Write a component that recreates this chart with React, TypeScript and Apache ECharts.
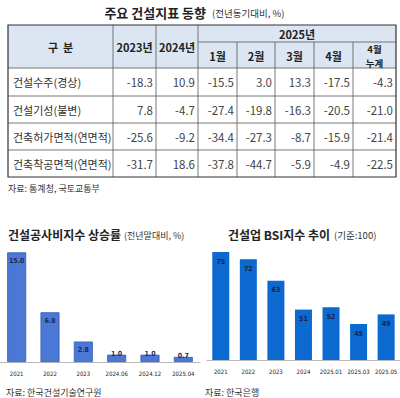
import React, { useEffect, useRef } from "react";
import * as echarts from "echarts";

const tableTitle = "주요 건설지표 동향";
const tableSub = "(전년동기대비, %)";
const yearHeader = "2025년";
const colHeaders = ["2023년", "2024년", "1월", "2월", "3월", "4월", "4월\n누계"];
const rowLabels = ["건설수주(경상)", "건설기성(불변)", "건축허가면적(연면적)", "건축착공면적(연면적)"];
const rowOrders = [-18.3, 10.9, -15.5, 3.0, 13.3, -17.5, -4.3];
const rowOutput = [7.8, -4.7, -27.4, -19.8, -16.3, -20.5, -21.0];
const rowPermit = [-25.6, -9.2, -34.4, -27.3, -8.7, -15.9, -21.4];
const rowStart = [-31.7, 18.6, -37.8, -44.7, -5.9, -4.9, -22.5];
const tableSource = "자료: 통계청, 국토교통부";

const costTitle = "건설공사비지수 상승률";
const costSub = "(전년말대비, %)";
const costCats = ["2021", "2022", "2023", "2024.06", "2024.12", "2025.04"];
const costVals = [15.0, 6.8, 2.8, 1.0, 1.0, 0.7];
const costSource = "자료: 한국건설기술연구원";

const bsiTitle = "건설업 BSI지수 추이";
const bsiSub = "(기준:100)";
const bsiCats = ["2021", "2022", "2023", "2024", "2025.01", "2025.03", "2025.05"];
const bsiVals = [75, 72, 63, 51, 52, 45, 49];
const bsiSource = "자료: 한국은행";

const FONT = '"Noto Sans CJK KR", "Noto Sans", sans-serif';
const NARROW = '"Liberation Sans Narrow", "DejaVu Sans Condensed", "Noto Sans", sans-serif';

export default function App() {
  const ref = useRef<HTMLDivElement>(null);
  useEffect(() => {
    document.body.style.margin = "0";
    const chart = echarts.init(ref.current!, null, { renderer: "svg" });
    const colX = [8, 113, 156, 198, 237, 275, 314, 353, 396];
    const hTop = 25, hMid = 42, hBot = 68;
    const rowY = [68, 96, 123, 150, 177];
    const rows = [rowOrders, rowOutput, rowPermit, rowStart];
    const g: any[] = [];
    const txt = (text: string, x: number, y: number, font: string, align: string, fill = "#222") =>
      g.push({ type: "text", x, y, style: { text, font, fill, textAlign: align, textVerticalAlign: "middle" } });
    g.push({ type: "rect", shape: { x: colX[0], y: hTop, width: colX[8] - colX[0], height: hBot - hTop }, style: { fill: "#dce6f2" } });
    g.push({ type: "line", shape: { x1: colX[3], y1: hMid, x2: colX[8], y2: hMid }, style: { stroke: "#555", lineWidth: 0.8 } });
    [hBot, ...rowY.slice(1, 4)].forEach((y) => g.push({ type: "line", shape: { x1: colX[0], y1: y, x2: colX[8], y2: y }, style: { stroke: "#555", lineWidth: 0.8 } }));
    colX.slice(1, 8).forEach((x, i) => {
      const y1 = i >= 3 ? hMid : hTop;
      g.push({ type: "line", shape: { x1: x, y1, x2: x, y2: rowY[4] }, style: { stroke: "#555", lineWidth: 0.8 } });
    });
    g.push({ type: "rect", shape: { x: colX[0], y: hTop, width: colX[8] - colX[0], height: rowY[4] - hTop }, style: { fill: "none", stroke: "#333", lineWidth: 1.2 } });
    txt(tableTitle, 206, 12, `bold 13px ${FONT}`, "right");
    txt(tableSub, 212, 13, `9.5px ${FONT}`, "left", "#333");
    txt("구  분", (colX[0] + colX[1]) / 2, 47, `bold 11px ${FONT}`, "center");
    txt(yearHeader, (colX[3] + colX[8]) / 2, 34, `bold 11px ${FONT}`, "center");
    colHeaders.forEach((h, i) => {
      const c = i + 1;
      const cx = (colX[c] + colX[c + 1]) / 2;
      const parts = h.split("\n");
      if (parts.length === 1) {
        txt(h, cx, c <= 2 ? 47 : 56, `bold 11px ${FONT}`, "center");
      } else {
        txt(parts[0], cx, 48.5, `bold 9.5px ${FONT}`, "center");
        txt(parts[1], cx, 62.5, `bold 9.5px ${FONT}`, "center");
      }
    });
    rowLabels.forEach((lab, r) => {
      const cy = (rowY[r] + rowY[r + 1]) / 2;
      txt(lab, colX[0] + 5, cy, `11px ${FONT}`, "left", "#333");
      rows[r].forEach((v, i) => {
        const c = i + 1;
        txt(v.toFixed(1), colX[c + 1] - 3, cy, `11.5px ${FONT}`, "right", "#444");
      });
    });
    txt(tableSource, 8, 188, `9px ${FONT}`, "left", "#333");
    txt(costTitle, 8, 234, `bold 12px ${FONT}`, "left");
    txt(costSub, 124, 235, `9px ${FONT}`, "left", "#333");
    txt(bsiTitle, 228, 234, `bold 12px ${FONT}`, "left");
    txt(bsiSub, 334, 235, `9.5px ${FONT}`, "left", "#333");
    txt(costSource, 6, 392, `9px ${FONT}`, "left", "#333");
    txt(bsiSource, 205, 392, `9px ${FONT}`, "left", "#333");

    const catAxis = (cats: string[], gi: number) => ({
      type: "category",
      gridIndex: gi,
      data: cats,
      axisTick: { show: false },
      axisLine: { lineStyle: { color: "#b8b8b8", width: 1 } },
      axisLabel: { fontSize: 6, color: "#222", fontWeight: "normal", margin: 8, fontFamily: NARROW, interval: 0 },
    });

    const labelBase = { show: true, fontSize: 7, fontWeight: "bold", fontFamily: NARROW };
    const costData = costVals.map((v) => ({
      value: v,
      label: v < 2 ? { position: "top", distance: -3 } : { position: "insideTop", distance: 5 },
    }));

    chart.setOption({
      animation: false,
      grid: [
        { left: 0, width: 200, top: 245, bottom: 36 },
        { left: 207, width: 197, top: 240, bottom: 38 },
      ],
      xAxis: [catAxis(costCats, 0), catAxis(bsiCats, 1)],
      yAxis: [
        { type: "value", gridIndex: 0, min: 0, max: 16, show: false, splitLine: { show: false } },
        { type: "value", gridIndex: 1, min: 30, max: 80, show: false, splitLine: { show: false } },
      ],
      series: [
        {
          type: "bar",
          xAxisIndex: 0,
          yAxisIndex: 0,
          data: costData,
          barWidth: 19,
          itemStyle: { color: "#4b78d4", borderColor: "#2f5cb5", borderWidth: 0.8 },
          label: { ...labelBase, formatter: (p: any) => Number(p.value).toFixed(1), color: "#1c2a55" },
        },
        {
          type: "bar",
          xAxisIndex: 1,
          yAxisIndex: 1,
          data: bsiVals,
          barWidth: 17,
          itemStyle: { color: "#0b69cf" },
          label: { ...labelBase, position: "insideTop", distance: 6, color: "#17234a" },
        },
      ],
      graphic: g,
    });
    return () => chart.dispose();
  }, []);
  return <div ref={ref} style={{ position: "fixed", left: 0, top: 0, width: 400, height: 398, background: "#fff" }} />;
}
